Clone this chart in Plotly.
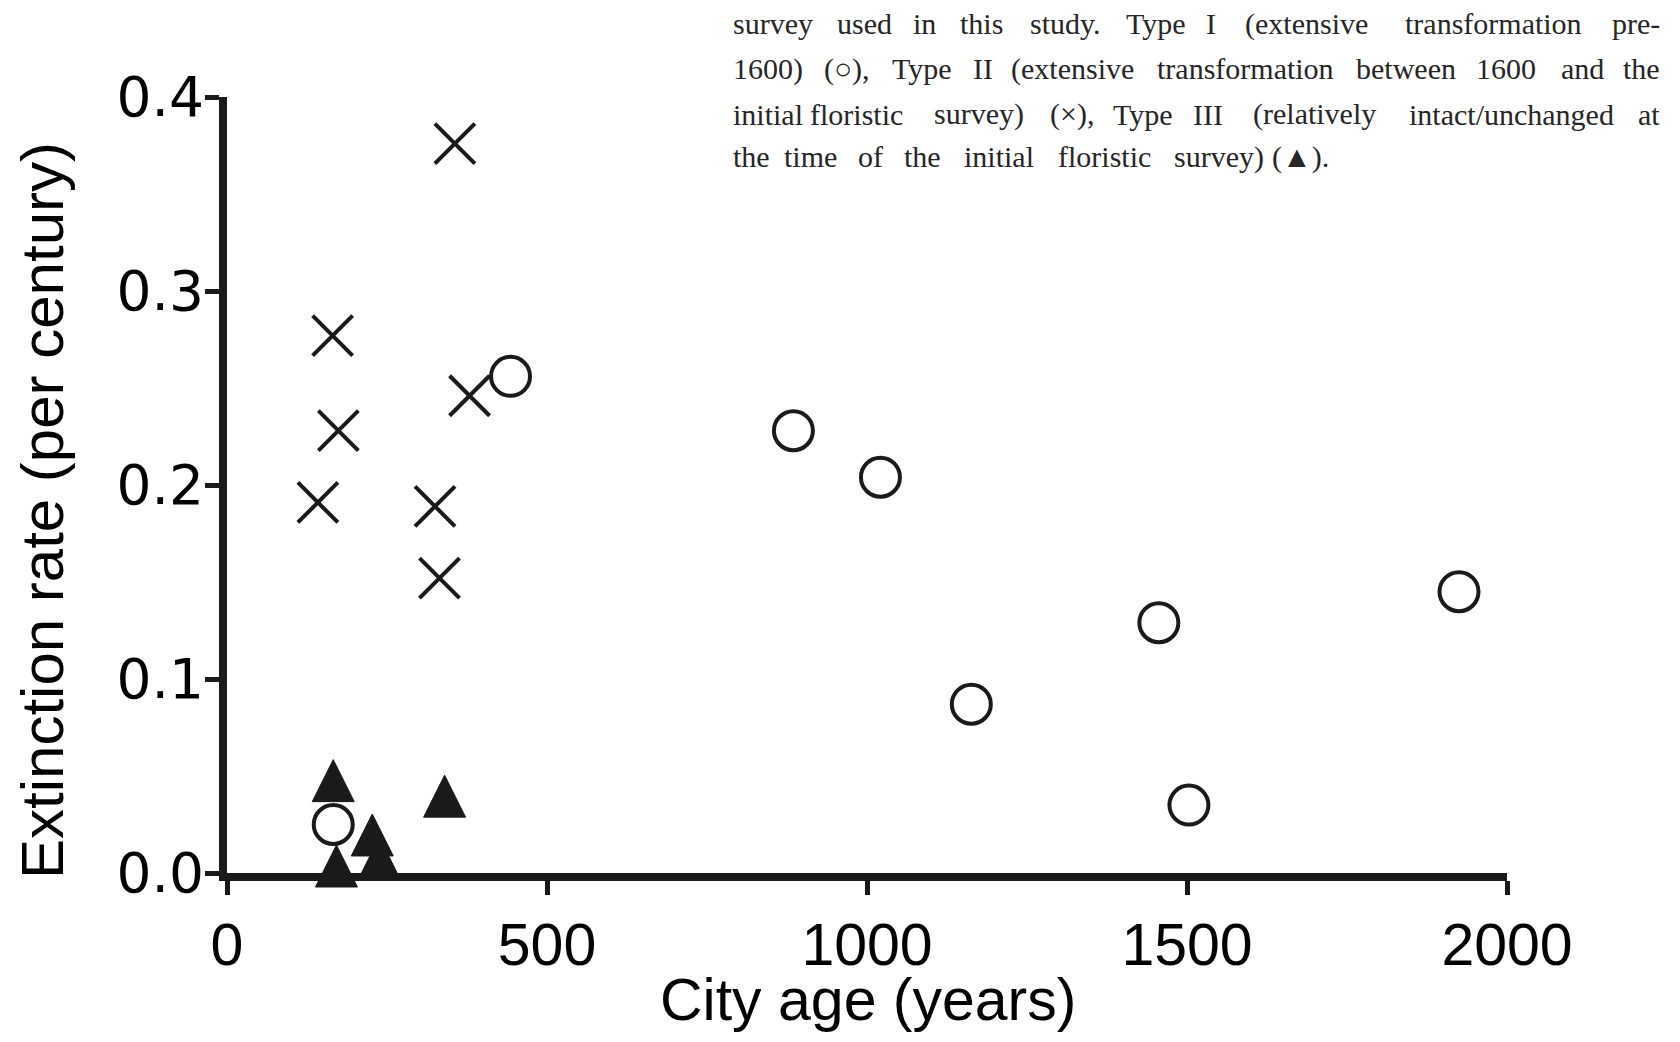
import plotly.graph_objects as go

# ---- data ----
type1_age = [166, 443, 885, 1021, 1163, 1456, 1503, 1925]
type1_rate = [0.025, 0.256, 0.228, 0.204, 0.087, 0.129, 0.035, 0.145]

type2_age = [356, 165, 174, 142, 325, 332, 379]
type2_rate = [0.376, 0.277, 0.228, 0.191, 0.189, 0.152, 0.246]

type3_age = [166, 171, 227, 238, 340]
type3_rate = [0.044, 0.0, 0.016, 0.004, 0.036]

x_ticks = [0, 500, 1000, 1500, 2000]
y_ticks = [0.0, 0.1, 0.2, 0.3, 0.4]

caption_lines = [
    ["survey", "used", "in", "this", "study.", "Type", "I", "(extensive", "transformation", "pre-"],
    ["1600)", "(\u25CB),", "Type", "II", "(extensive", "transformation", "between", "1600", "and", "the"],
    ["initial", "floristic", "survey)", "(\u00D7),", "Type", "III", "(relatively", "intact/unchanged", "at"],
    ["the", "time", "of", "the", "initial", "floristic", "survey)", "(\u25B2)."],
]
# word start positions (page pixels) of the justified caption, plus line ends
caption_word_x = [
    [732, 835, 905, 955, 1020, 1122, 1202, 1232, 1393, 1606],
    [732, 818, 887, 968, 1010, 1147, 1355, 1468, 1555, 1622],
    [732, 802, 922, 1047, 1108, 1190, 1237, 1403, 1632],
    [732, 770, 858, 890, 963, 1043, 1173, 1272],
]
caption_line_end = [1661, 1661, 1661, 1328]
caption_justified = [True, True, True, False]
caption_word_gap = [12, 12, 12, 8]
caption_line_y = [24, 69, 114, 157]

INK = "#1a1a1a"
BODY = 8                      # default page margin of the html body
PAGE_W, PAGE_H = 1680, 1042
W, H = PAGE_W - 2 * BODY, PAGE_H - 2 * BODY
# plot area in page pixels
PL, PR, PT, PB = 227, 1507, 97, 873
ML, MT = PL - BODY, PT - BODY
MR, MB = W - (PR - BODY), H - (PB - BODY)


def xp(px):
    return (px - PL) / (PR - PL)


def yp(py):
    return (PB - py) / (PB - PT)


fig = go.Figure()

fig.add_trace(go.Scatter(
    x=type2_age, y=type2_rate, mode="markers", name="Type II",
    marker=dict(symbol="x-thin-open", size=40, color=INK,
                line=dict(color=INK, width=4)),
    cliponaxis=False,
))
fig.add_trace(go.Scatter(
    x=type1_age, y=type1_rate, mode="markers", name="Type I",
    marker=dict(symbol="circle", size=39, color="white",
                line=dict(color=INK, width=4)),
    cliponaxis=False,
))
fig.add_trace(go.Scatter(
    x=type3_age, y=type3_rate, mode="markers", name="Type III",
    marker=dict(symbol="arrow-down", angle=180, standoff=28, size=42,
                color=INK, line=dict(color=INK, width=1)),
    cliponaxis=False,
))

annotations = []
for words, xs, end, just, gap, cy in zip(caption_lines, caption_word_x, caption_line_end,
                                         caption_justified, caption_word_gap, caption_line_y):
    rights = [nx - gap for nx in xs[1:]] + [end]
    n = len(words)
    for i, (w, x0, x1) in enumerate(zip(words, xs, rights)):
        if i == 0:
            xa, xpos = "left", x0
        elif i == n - 1 and just:
            xa, xpos = "right", x1
        else:
            xa, xpos = "center", (x0 + x1) / 2
        annotations.append(dict(
            text=w, x=xp(xpos), y=yp(cy), xref="paper", yref="paper",
            xanchor=xa, yanchor="middle", showarrow=False,
            font=dict(family="Liberation Serif, Times New Roman, serif",
                      size=30, color="#262626"),
            borderpad=0,
        ))

annotations.append(dict(
    text="City age (years)", x=xp(868), y=yp(1000), xref="paper", yref="paper",
    xanchor="center", yanchor="middle", showarrow=False,
    font=dict(family="Liberation Sans, Arial, sans-serif", size=59, color="black"),
))
annotations.append(dict(
    text="Extinction rate (per century)", x=xp(42), y=yp(511), xref="paper", yref="paper",
    xanchor="center", yanchor="middle", showarrow=False, textangle=-90,
    font=dict(family="Liberation Sans, Arial, sans-serif", size=60, color="black"),
))

fig.update_layout(
    width=W, height=H,
    margin=dict(l=ML, r=MR, t=MT, b=MB),
    paper_bgcolor="white", plot_bgcolor="white",
    showlegend=False,
    annotations=annotations,
    xaxis=dict(
        range=[0, 2000], tickvals=x_ticks, ticktext=[str(v) for v in x_ticks],
        showgrid=False, zeroline=False, showline=True, linecolor=INK, linewidth=8,
        ticks="outside", ticklen=14, tickwidth=5, tickcolor=INK,
        tickfont=dict(family="Liberation Sans, Arial, sans-serif", size=59, color="black"),
        ticklabelstandoff=-1,
    ),
    yaxis=dict(
        range=[0, 0.4], tickvals=y_ticks, ticktext=[f"{v:.1f}" for v in y_ticks],
        showgrid=False, zeroline=False, showline=True, linecolor=INK, linewidth=8,
        ticks="outside", ticklen=14, tickwidth=5, tickcolor=INK,
        tickfont=dict(family="DejaVu Sans, Arial, sans-serif", size=55, color="black"),
        ticklabelstandoff=-10,
    ),
)

fig.write_html("out.html")
